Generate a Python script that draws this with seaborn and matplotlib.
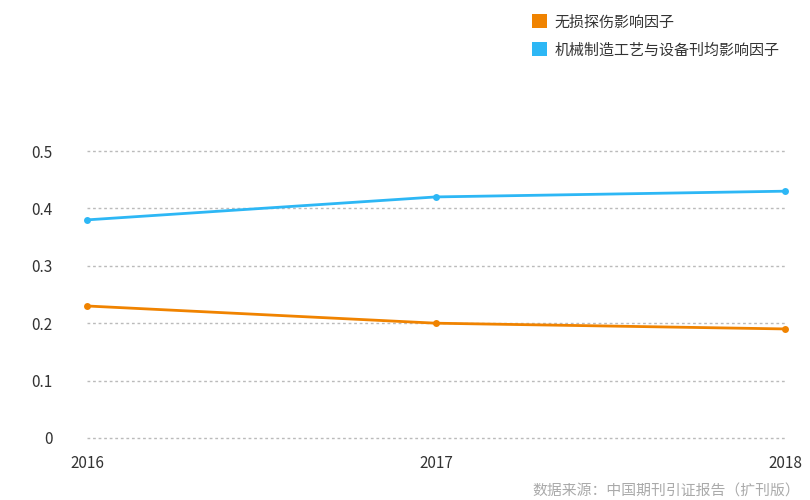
import matplotlib
matplotlib.use("Agg")
import matplotlib.pyplot as plt
import seaborn as sns
import pandas as pd
from matplotlib.patches import Patch

years = [2016, 2017, 2018]
series_names = ["无损探伤影响因子", "机械制造工艺与设备刊均影响因子"]
vals_ndt = [0.23, 0.20, 0.19]
vals_mech = [0.38, 0.42, 0.43]
colors = ["#F08300", "#2DB7F5"]
yticks = [0, 0.1, 0.2, 0.3, 0.4, 0.5]
ytick_labels = ["0", "0.1", "0.2", "0.3", "0.4", "0.5"]
source_text = "数据来源：中国期刊引证报告（扩刊版）"

df = pd.DataFrame({
    "year": years * 2,
    "value": vals_ndt + vals_mech,
    "series": [series_names[0]] * 3 + [series_names[1]] * 3,
})

sns.set_theme(style="white")
plt.rcParams["font.family"] = ["Noto Sans CJK SC", "DejaVu Sans"]

fig = plt.figure(figsize=(8.1, 5), dpi=100)
ax = fig.add_axes([87 / 810, 1 - 438 / 500, (785 - 87) / 810, (438 - 151) / 500])

sns.lineplot(data=df, x="year", y="value", hue="series", palette=colors,
             hue_order=series_names, marker="o", markersize=5, markeredgewidth=0,
             linewidth=2, ax=ax, legend=False, clip_on=False, zorder=3)

ax.set_xlim(2016, 2018)
ax.set_ylim(0, 0.5)
ax.set_xticks(years)
ax.set_xticklabels([str(y) for y in years])
ax.set_yticks(yticks)
ax.set_yticklabels(ytick_labels)
ax.set_xlabel("")
ax.set_ylabel("")
for s in ax.spines.values():
    s.set_visible(False)
ax.grid(False)
for y in yticks:
    ax.axhline(y, color="#BBBBBB", linestyle=(0, (2, 2)), linewidth=1, zorder=1, clip_on=False)
ax.tick_params(axis="y", length=0, pad=25, labelsize=11, labelcolor="#333333")
ax.tick_params(axis="x", length=0, pad=12, labelsize=11, labelcolor="#333333")

handles = [Patch(facecolor=c, edgecolor="none") for c in colors]
fig.legend(handles, series_names, loc="upper left", bbox_to_anchor=(518 / 810, 1 - 1 / 500),
           frameon=False, fontsize=10.8, handlelength=1.05, handleheight=1.05,
           handletextpad=0.5, labelspacing=0.85, labelcolor="#333333")

fig.text(800 / 810, 1 - 492 / 500, source_text, ha="right", va="center",
         fontsize=10.7, color="#AAAAAA")

fig.savefig("out.png", dpi=100)
